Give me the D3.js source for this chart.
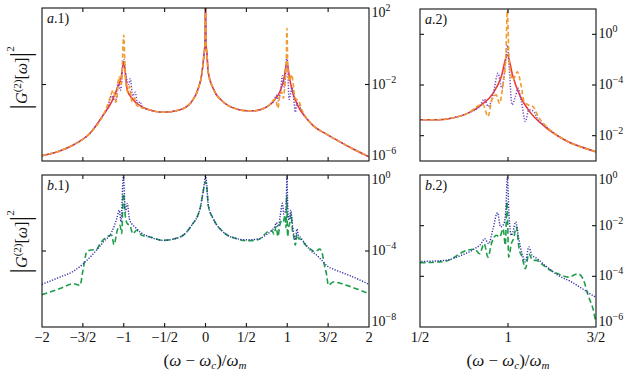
<!DOCTYPE html>
<html><head><meta charset="utf-8">
<script src="https://cdn.jsdelivr.net/npm/d3@7/dist/d3.min.js"></script>
<style>body{margin:0;background:#fff}svg{display:block}</style>
</head><body>
<svg id="c" width="630" height="374"></svg>
<script>
// ---------- DATA (x = (ω-ωc)/ωm, y = log10 |G2[ω]|^2) ----------
// Panel a: solid (red) curve
const redX = [-2,-1.8,-1.617,-1.413,-1.25,-1.147,-1.079,-1.03,-1.0,-0.975,-0.957,-0.9,-0.842,-0.72,-0.52,-0.32,-0.17,-0.088,-0.047,-0.019,-0.006,0,0.006,0.019,0.032,0.093,0.215,0.378,0.5,0.602,0.678,0.773,0.849,0.915,0.962,0.996,1.028,1.066,1.123,1.209,1.32,1.49,1.645,1.8,2];
const redY = [-5.72,-5.5,-5.16,-4.55,-3.59,-2.9,-2.2,-1.6,-0.8,-1.65,-2.29,-2.72,-2.98,-3.28,-3.45,-3.33,-2.9,-2.2,-1.5,-0.46,0.2,2.5,0.2,-0.46,-1.33,-2.2,-2.9,-3.28,-3.37,-3.37,-3.31,-3.11,-2.78,-2.33,-1.67,-0.82,-1.67,-2.39,-3.05,-3.64,-4.16,-4.62,-5.0,-5.36,-5.78];
// Panel a: dotted (purple) curve, where it departs from the solid one
const purpleLX = [-1.2,-1.15,-1.1,-1.07,-1.04,-1.0,-0.97,-0.94,-0.92,-0.89,-0.86,-0.83,-0.8,-0.77];
const purpleLY = [-3.24,-2.6,-2.9,-1.9,-2.3,-0.7,-1.6,-2.0,-1.7,-2.6,-2.4,-3.0,-2.9,-3.2];
const purpleRX = [0.792,0.839,0.865,0.888,0.915,0.943,0.966,0.985,0.996,1.007,1.023,1.042,1.057,1.076,1.099,1.118,1.142,1.171,1.209];
const purpleRY = [-3.05,-2.85,-2.56,-2.85,-2.39,-1.54,-2.13,-1.15,-0.43,-1.35,-2.78,-2.46,-2.13,-2.65,-3.44,-2.98,-3.02,-3.37,-3.6];
// Panel a: dashed (orange) curve, where it departs from the solid one
const orangeLX = [-1.2,-1.16,-1.13,-1.09,-1.06,-1.03,-1.0,-0.98,-0.95,-0.93,-0.9,-0.87,-0.84];
const orangeLY = [-3.1,-2.6,-2.3,-2.9,-1.6,-2.0,0.59,-1.7,-2.4,-2.1,-2.9,-2.7,-3.1];
const orangeRX = [0.858,0.886,0.909,0.933,0.952,0.971,0.988,0.996,1.007,1.028,1.053,1.076,1.091,1.114,1.142,1.171,1.209];
const orangeRY = [-2.78,-3.24,-2.59,-2.39,-2.72,-2.0,-0.82,0.94,-1.09,-1.8,-1.48,-2.07,-2.65,-2.78,-2.85,-3.24,-3.57];
// Panel b: dotted (blue) curve
const blueX = [-2,-1.78,-1.617,-1.495,-1.372,-1.25,-1.147,-1.086,-1.054,-1.033,-1.005,-0.98,-0.956,-0.932,-0.903,-0.862,-0.8,-0.68,-0.516,-0.31,-0.17,-0.067,-0.015,0,0.015,0.034,0.095,0.218,0.382,0.5,0.64,0.735,0.811,0.848,0.867,0.89,0.915,0.94,0.958,0.977,0.989,0.996,1.006,1.019,1.028,1.044,1.061,1.08,1.099,1.118,1.136,1.152,1.17,1.209,1.284,1.36,1.436,1.493,1.563,1.768,2];
const blueY = [-5.75,-5.37,-5.07,-4.67,-4.14,-3.53,-3.0,-2.3,-1.86,-2.47,0.0,-1.95,-1.5,-2.3,-2.56,-2.74,-3.0,-3.26,-3.44,-3.26,-2.65,-1.77,-0.46,-0.05,-0.5,-1.6,-2.3,-3.0,-3.35,-3.41,-3.37,-3.17,-2.91,-2.71,-2.51,-2.71,-2.12,-1.49,-2.05,-1.92,-1.2,-0.08,-1.59,-2.38,-2.25,-1.85,-2.51,-3.11,-3.43,-2.84,-3.17,-3.24,-3.33,-3.56,-3.96,-4.22,-4.55,-4.8,-4.95,-5.3,-5.75];
// Panel b: dashed (green) curve
const greenX = [-2,-1.78,-1.617,-1.535,-1.502,-1.453,-1.413,-1.331,-1.29,-1.209,-1.147,-1.12,-1.079,-1.046,-1.025,-1.005,-0.98,-0.956,-0.923,-0.89,-0.842,-0.78,-0.68,-0.516,-0.31,-0.17,-0.067,-0.015,0,0.015,0.034,0.095,0.218,0.382,0.5,0.64,0.773,0.811,0.839,0.864,0.886,0.909,0.934,0.953,0.972,0.985,0.994,1.004,1.019,1.032,1.047,1.063,1.08,1.099,1.118,1.142,1.161,1.189,1.227,1.284,1.341,1.398,1.426,1.455,1.483,1.502,1.563,1.727,2];
const greenY = [-6.3,-5.98,-5.72,-5.81,-5.1,-4.05,-3.96,-3.91,-3.62,-3.26,-3.17,-3.67,-2.91,-2.65,-3.09,-0.98,-2.21,-2.56,-2.65,-3.09,-2.91,-3.17,-3.26,-3.44,-3.26,-2.65,-1.77,-0.6,-0.35,-0.6,-1.6,-2.3,-3.0,-3.35,-3.46,-3.41,-2.96,-2.93,-3.11,-2.71,-3.24,-2.64,-2.38,-2.45,-2.12,-2.77,-1.07,-3.24,-2.71,-2.51,-2.05,-2.91,-3.24,-3.7,-3.11,-3.37,-3.37,-3.5,-3.7,-3.9,-4.03,-3.9,-4.09,-4.75,-5.28,-5.8,-5.63,-5.81,-6.25];

// Tick values / labels
const wideTicks = [-2,-1.5,-1,-0.5,0,0.5,1,1.5,2];
const wideTickText = ["\u22122","\u22123/2","\u22121","\u22121/2","0","1/2","1","3/2","2"];
const zoomTicks = [0.5,1,1.5];
const zoomTickText = ["1/2","1","3/2"];
const yTicksA1 = [2,-2,-6],   yTextA1 = ["2","\u22122","\u22126"];
const yTicksA2 = [0,-2,-4],   yTextA2 = ["0","\u22124","\u22122"];
const yTicksB1 = [0,-4,-8],   yTextB1 = ["0","\u22124","\u22128"];
const yTicksB2 = [0,-2,-4,-6], yTextB2 = ["0","\u22122","\u22124","\u22126"];

// ---------- helpers ----------
const pairs = (xs, ys) => xs.map((x, i) => [x, ys[i]]);
function withDetail(bx, by, wins) {
  const pts = [];
  bx.forEach((x, i) => {
    if (!wins.some(w => x >= w[0][0] && x <= w[0][w[0].length - 1])) pts.push([x, by[i]]);
  });
  wins.forEach(w => w[0].forEach((x, i) => pts.push([x, w[1][i]])));
  return pts.sort((a, b) => a[0] - b[0]);
}
const redData = pairs(redX, redY);
const purpleData = withDetail(redX, redY, [[purpleLX, purpleLY], [purpleRX, purpleRY]]);
const orangeData = withDetail(redX, redY, [[orangeLX, orangeLY], [orangeRX, orangeRY]]);
const blueData = pairs(blueX, blueY);
const greenData = pairs(greenX, greenY);

const seriesA = [
  {d: redData, color: "#ee3a35", w: 1.6, dash: null},
  {d: purpleData, color: "#7448c2", w: 1.5, dash: "1.2,1.6"},
  {d: orangeData, color: "#f29b2f", w: 1.6, dash: "4.5,2.5"}
];
const seriesB = [
  {d: greenData, color: "#1e9e4a", w: 1.6, dash: "5.5,3"},
  {d: blueData, color: "#2f2fa6", w: 1.4, dash: "1.2,1.5"}
];

const panels = [
  {tag:"a", num:".1)", l:42, r:369, t:8, b:161, xd:[-2,2], yd:[1e-6,1e2], xt:wideTicks, xtt:null, yt:yTicksA1, ytt:yTextA1, s:seriesA},
  {tag:"a", num:".2)", l:420, r:596, t:9, b:161, xd:[0.5,1.5], yd:[1e-5,1e1], xt:zoomTicks, xtt:null, yt:yTicksA2, ytt:yTextA2, s:seriesA},
  {tag:"b", num:".1)", l:42, r:369, t:175, b:327, xd:[-2,2], yd:[1e-8,1e0], xt:wideTicks, xtt:wideTickText, yt:yTicksB1, ytt:yTextB1, s:seriesB},
  {tag:"b", num:".2)", l:420, r:596, t:175, b:327, xd:[0.5,1.5], yd:[1e-6,1e0], xt:zoomTicks, xtt:zoomTickText, yt:yTicksB2, ytt:yTextB2, s:seriesB}
];

const svg = d3.select("#c");
const FONT = "'Liberation Serif', 'DejaVu Serif', serif";
const TL = 4;

panels.forEach((p, pi) => {
  const x = d3.scaleLinear().domain(p.xd).range([p.l, p.r]);
  const y = d3.scaleLog().domain(p.yd).range([p.b, p.t]);
  const g = svg.append("g");
  const cid = "clip" + pi;
  svg.append("clipPath").attr("id", cid).append("rect")
    .attr("x", p.l).attr("y", p.t).attr("width", p.r - p.l).attr("height", p.b - p.t);
  const line = d3.line().curve(d3.curveMonotoneX).x(d => x(d[0])).y(d => y(Math.pow(10, d[1])));
  const cg = g.append("g").attr("clip-path", `url(#${cid})`);
  p.s.forEach(s => {
    cg.append("path").attr("d", line(s.d)).attr("fill", "none")
      .attr("stroke", s.color).attr("stroke-width", s.w)
      .attr("stroke-dasharray", s.dash).attr("stroke-linejoin", "round");
  });
  // frame
  g.append("rect").attr("x", p.l).attr("y", p.t).attr("width", p.r - p.l).attr("height", p.b - p.t)
    .attr("fill", "none").attr("stroke", "#111").attr("stroke-width", 1.1);
  // x ticks (inward, top & bottom)
  p.xt.filter(v => v > p.xd[0] && v < p.xd[1]).forEach(v => {
    const px = x(v);
    g.append("line").attr("x1", px).attr("x2", px).attr("y1", p.b).attr("y2", p.b - TL).attr("stroke", "#111").attr("stroke-width", 1.1);
    g.append("line").attr("x1", px).attr("x2", px).attr("y1", p.t).attr("y2", p.t + TL).attr("stroke", "#111").attr("stroke-width", 1.1);
  });
  if (p.xtt) {
    p.xt.forEach((v, i) => {
      g.append("text").attr("x", x(v)).attr("y", p.b + 15).attr("text-anchor", "middle")
        .attr("font-family", FONT).attr("font-size", 14.5).attr("fill", "#111").text(p.xtt[i]);
    });
  }
  // y ticks (inward, left & right) + labels on right
  p.yt.forEach((e, i) => {
    const py = y(Math.pow(10, e));
    if (py > p.t + 0.5 && py < p.b - 0.5) {
      g.append("line").attr("x1", p.l).attr("x2", p.l + TL).attr("y1", py).attr("y2", py).attr("stroke", "#111").attr("stroke-width", 1.1);
      g.append("line").attr("x1", p.r).attr("x2", p.r - TL).attr("y1", py).attr("y2", py).attr("stroke", "#111").attr("stroke-width", 1.1);
    }
    const base = Math.min(Math.max(py + 4, p.t + 8.5), p.b - 1.5);
    const t = g.append("text").attr("x", p.r + 2.5).attr("y", base)
      .attr("font-family", FONT).attr("font-size", 14).attr("fill", "#111");
    t.append("tspan").text("10");
    t.append("tspan").attr("font-size", 10).attr("dy", -6).text(p.ytt[i]);
  });
  // panel label
  const lab = g.append("text").attr("x", p.l + 5).attr("y", p.t + 15)
    .attr("font-family", FONT).attr("font-size", 14).attr("fill", "#111");
  lab.append("tspan").attr("font-style", "italic").text(p.tag);
  lab.append("tspan").text(p.num);
});

// y-axis titles
function yTitle(cy) {
  const t = svg.append("text").attr("transform", `translate(27,${cy}) rotate(-90)`)
    .attr("text-anchor", "middle").attr("font-family", FONT).attr("font-size", 16).attr("fill", "#111");
  t.append("tspan").attr("font-size", 29).attr("dy", 3).text("|");
  t.append("tspan").attr("font-style", "italic").attr("dy", -3).text("G");
  t.append("tspan").attr("font-size", 11).attr("dy", -6).text("(2)");
  t.append("tspan").attr("dy", 6).text("[");
  t.append("tspan").attr("font-style", "italic").text("\u03c9");
  t.append("tspan").text("]");
  t.append("tspan").attr("font-size", 29).attr("dy", 3).text("|");
  t.append("tspan").attr("font-size", 11).attr("dy", -16).text("2");
}
yTitle(78);
yTitle(242);

// x-axis titles
function xTitle(cx) {
  const t = svg.append("text").attr("x", cx).attr("y", 366).attr("text-anchor", "middle")
    .attr("font-family", FONT).attr("font-size", 17).attr("fill", "#111");
  t.append("tspan").text("(");
  t.append("tspan").attr("font-style", "italic").text("\u03c9");
  t.append("tspan").text(" \u2212 ");
  t.append("tspan").attr("font-style", "italic").text("\u03c9");
  t.append("tspan").attr("font-style", "italic").attr("font-size", 11).attr("dy", 3).text("c");
  t.append("tspan").attr("dy", -3).text(")/");
  t.append("tspan").attr("font-style", "italic").text("\u03c9");
  t.append("tspan").attr("font-style", "italic").attr("font-size", 11).attr("dy", 3).text("m");
}
xTitle(205);
xTitle(508);
</script>
</body></html>
